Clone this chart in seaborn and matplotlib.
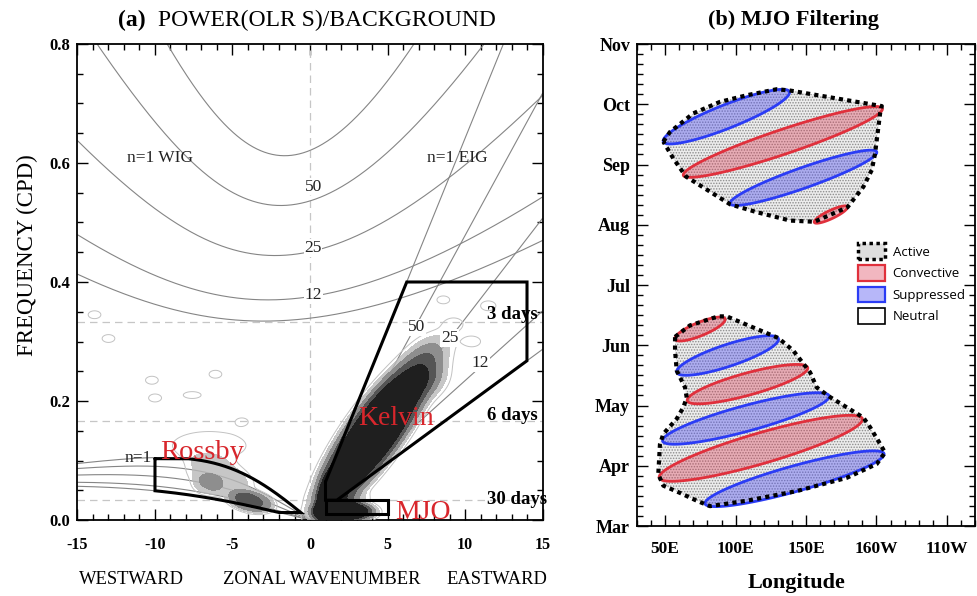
import numpy as np
import pandas as pd
import matplotlib
matplotlib.use("Agg")
import matplotlib.pyplot as plt
import matplotlib.ticker as mticker
from matplotlib.patches import Patch, Polygon
import seaborn as sns

# ---------------------------------------------------------------------------
# (a) symmetric OLR power / background in wavenumber-frequency space
# ---------------------------------------------------------------------------
EQUIV_DEPTHS = [8, 12, 25, 50, 90]          # shallow-water equivalent depths (m)
PERIOD_LINES = [3, 6, 30]                   # reference periods (days)

# filter regions: zonal wavenumber limits, period limits (days), depth limits (m)
KELVIN_K = [1, 14]
KELVIN_PERIOD = [2.5, 30]
KELVIN_H = [8, 90]
ROSSBY_K = [-10, -0.05]
ROSSBY_PERIOD = [9.7, 80]
ROSSBY_H = [8, 90]
MJO_K = [1, 5]
MJO_PERIOD = [30, 96]

# spectral peaks of the power/background ratio:
# centre wavenumber, centre frequency (cpd), spread in k, spread in f,
# k-f correlation, amplitude above 1, peak flatness exponent
PEAK_K = [4.2, 2.2, 0.9, 7.8, 8.0, 2.3, -5.8, -6.6, -3.8, -6.5,
          -13.9, -13.0, -10.2, -10.0, -7.6, -6.1, -4.4, 9.3, 10.5, 11.5, 8.6]
PEAK_F = [0.148, 0.014, 0.035, 0.280, 0.235, 0.036, 0.072, 0.060, 0.031, 0.125,
          0.345, 0.305, 0.235, 0.205, 0.210, 0.245, 0.165, 0.330, 0.300, 0.360, 0.370]
PEAK_SK = [2.6, 1.35, 0.35, 1.0, 0.7, 1.0, 1.5, 0.7, 1.0, 2.2,
           0.5, 0.5, 0.5, 0.5, 0.7, 0.5, 0.5, 0.6, 0.6, 0.6, 0.5]
PEAK_SF = [0.090, 0.012, 0.025, 0.022, 0.020, 0.008, 0.025, 0.013, 0.013, 0.022,
           0.008, 0.008, 0.008, 0.008, 0.007, 0.008, 0.008, 0.010, 0.010, 0.010, 0.008]
PEAK_RHO = [0.84, 0.0, 0.5, 0.3, 0.3, 0.0, -0.4, 0.0, -0.3, 0.0,
            0, 0, 0, 0, 0, 0, 0, 0, 0, 0, 0]
PEAK_AMP = [1.6, 1.5, 1.1, 0.2, 0.3, 0.3, 0.32, 0.22, 0.75, 0.14,
            0.14, 0.14, 0.14, 0.14, 0.14, 0.14, 0.14, 0.14, 0.14, 0.14, 0.14]
PEAK_P = [2, 2, 1, 1, 1, 1, 2, 2, 2, 2,
          1, 1, 1, 1, 1, 1, 1, 1, 1, 1, 1]
RATIO_LIGHT_LEVELS = [1.2, 1.4]
RATIO_DARK_LEVELS = [1.4, 1.7, 2.0, 99.0]
RATIO_LIGHT_COLOR = "#b8b8b8"
RATIO_DARK_COLORS = ["#8e8e8e", "#555555", "#1f1f1f"]
RATIO_LINE_LEVEL = [1.1]

# ---------------------------------------------------------------------------
# (b) MJO filtering schematic: longitude (deg E) vs time (months after 1 Mar)
# ---------------------------------------------------------------------------
MONTHS = ["Mar", "Apr", "May", "Jun", "Jul", "Aug", "Sep", "Oct", "Nov"]
LON_TICKS = [50, 100, 150, 200, 250]
LON_LABELS = ["50E", "100E", "150E", "160W", "110W"]

ACTIVE_LATE_LON = [48.7, 53.4, 70.0, 88.9, 107.9, 129.2, 138.2, 203.8, 202.6, 199.0,
                   196.7, 190.7, 179.4, 155.9, 138.7, 114.9, 96.1, 64.8, 55.8]
ACTIVE_LATE_MON = [6.38, 6.54, 6.85, 7.04, 7.15, 7.25, 7.23, 6.97, 6.85, 6.18,
                   5.91, 5.63, 5.29, 5.05, 5.07, 5.21, 5.34, 5.80, 6.10]
ACTIVE_EARLY_LON = [57.0, 67.6, 87.7, 93.7, 130.4, 141.0, 152.9, 157.6, 167.1, 178.9,
                    190.7, 195.5, 201.4, 206.1, 200.2, 178.9, 143.4, 107.9, 81.8, 72.4,
                    60.5, 48.7, 45.1, 46.3, 48.7, 58.2, 62.9, 65.3, 64.1, 60.5, 58.2, 57.0]
ACTIVE_EARLY_MON = [3.14, 3.33, 3.48, 3.48, 3.12, 2.91, 2.55, 2.30, 2.14, 1.97,
                    1.80, 1.64, 1.41, 1.22, 1.03, 0.80, 0.58, 0.42, 0.33, 0.42,
                    0.55, 0.67, 0.86, 1.36, 1.53, 1.78, 1.97, 2.13, 2.30, 2.47, 2.58, 2.91]

# anomaly ellipses: kind, start/end (longitude, month), vertical thickness (months)
ANOM_KIND = ["Suppressed", "Convective", "Suppressed", "Convective", "Convective",
             "Suppressed", "Convective", "Suppressed", "Convective", "Suppressed"]
ANOM_LON0 = [48.7, 62.9, 96.1, 155.9, 57.0, 58.2, 65.7, 48.2, 45.8, 78.3]
ANOM_MON0 = [6.38, 5.82, 5.35, 5.04, 3.10, 2.55, 2.08, 1.41, 0.80, 0.37]
ANOM_LON1 = [138.2, 204.2, 200.2, 179.4, 92.5, 130.4, 151.2, 166.4, 190.0, 205.4]
ANOM_MON1 = [7.21, 6.93, 6.21, 5.30, 3.44, 3.11, 2.63, 2.16, 1.78, 1.20]
ANOM_THICK = [0.42, 0.43, 0.36, 0.15, 0.24, 0.38, 0.38, 0.44, 0.53, 0.44]

ANOM_STYLE = {
    "Convective": dict(face=(0.86, 0.20, 0.30, 0.35), edge="#e0303c"),
    "Suppressed": dict(face=(0.30, 0.30, 0.95, 0.40), edge="#2b3cf5"),
}
ACTIVE_FACE = "#ececec"
ACTIVE_DOTS = "#8c8c8c"

# ---------------------------------------------------------------------------
G = 9.81
RADIUS = 6.371e6
BETA = 2 * 7.292e-5 / RADIUS
TO_CPD = 86400.0 / (2 * np.pi)


def kelvin_cpd(s, h):
    return np.sqrt(G * h) * np.asarray(s) / RADIUS * TO_CPD


def n1_branches(s, h):
    """n=1 inertio-gravity and Rossby frequencies (cpd) for wavenumbers s."""
    c = np.sqrt(G * h)
    ig, ros = [], []
    for sv in np.atleast_1d(s):
        k = sv / RADIUS
        r = np.sort(np.roots([1.0, 0.0, -c * c * (k * k + 3 * BETA / c), -BETA * k * c * c]).real)
        ig.append(r[2] * TO_CPD)
        ros.append(r[1] * TO_CPD)
    return np.array(ig), np.array(ros)


def band_outline(s, lower, upper):
    ok = lower <= upper
    xs = np.concatenate([s[ok], s[ok][::-1], s[ok][:1]])
    ys = np.concatenate([upper[ok], lower[ok][::-1], upper[ok][:1]])
    return xs, ys


sns.set_theme(style="ticks")
plt.rcParams.update({
    "font.family": ["Liberation Serif", "DejaVu Serif"],
    "axes.unicode_minus": False,
    "axes.edgecolor": "black",
    "axes.linewidth": 1.3,
    "text.color": "black",
    "axes.labelcolor": "black",
    "xtick.color": "black",
    "ytick.color": "black",
    "hatch.linewidth": 0.7,
})

fig = plt.figure(figsize=(9.77, 5.96), dpi=100)
ax1 = fig.add_axes([0.0793, 0.1275, 0.476, 0.7987])
ax2 = fig.add_axes([0.652, 0.1174, 0.346, 0.8087])

# ----------------------------- panel (a) -----------------------------------
ax1.set_xlim(-15, 15)
ax1.set_ylim(0, 0.8)

kk = np.linspace(-15, 15, 481)
ff = np.linspace(0, 0.8, 641)
K, F = np.meshgrid(kk, ff)
ratio = np.ones_like(K)
for k0, f0, sk, sf, rho, amp, p in zip(PEAK_K, PEAK_F, PEAK_SK, PEAK_SF,
                                        PEAK_RHO, PEAK_AMP, PEAK_P):
    x = (K - k0) / sk
    y = (F - f0) / sf
    r2 = (x * x - 2 * rho * x * y + y * y) / (1 - rho * rho)
    ratio += amp * np.exp(-(r2 / 2) ** p)

# lightest shade lets the dispersion curves show through; darker shades hide them
ax1.contourf(K, F, ratio, levels=[RATIO_LIGHT_LEVELS[0], 99.0], colors=[RATIO_LIGHT_COLOR],
             alpha=0.8, zorder=3)
ax1.contourf(K, F, ratio, levels=RATIO_DARK_LEVELS, colors=RATIO_DARK_COLORS, zorder=3)
ax1.contour(K, F, ratio, levels=RATIO_LINE_LEVEL, colors="#c2c2c2", linewidths=0.7, zorder=3)

for period in PERIOD_LINES:
    ax1.axhline(1.0 / period, color="#c6c6c6", lw=0.9, ls=(0, (6, 4)), zorder=1.5)
ax1.axvline(0, color="#c6c6c6", lw=0.9, ls=(0, (6, 4)), zorder=1.5)

# dispersion curves
s_all = np.linspace(-15, 15, 481)
s_west = np.linspace(-15, -0.02, 300)
s_east = np.linspace(0, 15, 100)
frames = []
for h in EQUIV_DEPTHS:
    ig, _ = n1_branches(s_all, h)
    _, ros = n1_branches(s_west, h)
    frames.append(pd.DataFrame({"k": s_all, "f": ig, "curve": f"ig{h}"}))
    frames.append(pd.DataFrame({"k": s_west, "f": ros, "curve": f"er{h}"}))
    frames.append(pd.DataFrame({"k": s_east, "f": kelvin_cpd(s_east, h), "curve": f"kw{h}"}))
curves = pd.concat(frames, ignore_index=True)
curves.loc[curves["f"] > 0.9, "f"] = np.nan
sns.lineplot(data=curves, x="k", y="f", units="curve", estimator=None, sort=False,
             color="#858585", lw=0.8, ax=ax1, legend=False, zorder=2)

# filter boxes
box_kw = dict(color="black", lw=2.2, zorder=4, solid_joinstyle="miter")
sk = np.linspace(KELVIN_K[0], KELVIN_K[1], 3000)
lo = np.maximum(kelvin_cpd(sk, KELVIN_H[0]), 1.0 / KELVIN_PERIOD[1])
hi = np.minimum(kelvin_cpd(sk, KELVIN_H[1]), 1.0 / KELVIN_PERIOD[0])
ax1.plot(*band_outline(sk, lo, hi), **box_kw)

sr = np.linspace(ROSSBY_K[0], ROSSBY_K[1], 1500)
lo = np.maximum(n1_branches(sr, ROSSBY_H[0])[1], 1.0 / ROSSBY_PERIOD[1])
hi = np.minimum(n1_branches(sr, ROSSBY_H[1])[1], 1.0 / ROSSBY_PERIOD[0])
ax1.plot(*band_outline(sr, lo, hi), **box_kw)

mjo_f = [1.0 / MJO_PERIOD[1], 1.0 / MJO_PERIOD[0]]
ax1.plot([MJO_K[0], MJO_K[1], MJO_K[1], MJO_K[0], MJO_K[0]],
         [mjo_f[0], mjo_f[0], mjo_f[1], mjo_f[1], mjo_f[0]], **box_kw)

# annotations
red = "#d8262c"
ax1.text(5.55, 0.170, "Kelvin", color=red, fontsize=20, ha="center", va="center", zorder=6)
ax1.text(-6.95, 0.113, "Rossby", color=red, fontsize=20.5, ha="center", va="center", zorder=6)
ax1.text(7.3, 0.013, "MJO", color=red, fontsize=20, ha="center", va="center", zorder=6)
ax1.text(-11.1, 0.104, "n=1", fontsize=12.5, ha="center", va="center", color="#222222", zorder=6)
ax1.text(-9.7, 0.608, "n=1 WIG", fontsize=12.5, ha="center", va="center", color="#222222")
ax1.text(9.5, 0.608, "n=1 EIG", fontsize=12.5, ha="center", va="center", color="#222222")
white = dict(facecolor="white", edgecolor="none", pad=0.5)
for lab, fy in zip(["50", "25", "12"], [0.560, 0.457, 0.378]):
    ax1.text(0.2, fy, lab, fontsize=12.5, ha="center", va="center", color="#222222",
             bbox=white, zorder=3)
for lab, kx, fy in zip(["50", "25", "12"], [6.9, 9.0, 11.0], [0.324, 0.306, 0.264]):
    ax1.text(kx, fy, lab, fontsize=12.5, ha="center", va="center", color="#222222",
             bbox=white, zorder=3)
for lab, fy in zip(["3 days", "6 days", "30 days"], [0.345, 0.175, 0.034]):
    ax1.text(11.45, fy, lab, fontsize=13.5, fontweight="bold", ha="left", va="center",
             zorder=6, clip_on=False)

ax1.xaxis.set_major_locator(mticker.MultipleLocator(5))
ax1.xaxis.set_minor_locator(mticker.MultipleLocator(1))
ax1.yaxis.set_major_locator(mticker.MultipleLocator(0.2))
ax1.yaxis.set_minor_locator(mticker.MultipleLocator(0.05))
ax1.yaxis.set_major_formatter(mticker.FormatStrFormatter("%.1f"))
ax1.tick_params(which="both", direction="in", top=True, right=True, width=1.0)
ax1.tick_params(which="major", length=8)
ax1.tick_params(which="minor", length=4)
ax1.tick_params(axis="x", pad=12, labelsize=11.5)
ax1.tick_params(axis="y", pad=5, labelsize=12)
for lab in ax1.get_xticklabels() + ax1.get_yticklabels():
    lab.set_fontweight("bold")
ax1.set_xlabel("")
ax1.set_ylabel("")

fig.text(118 / 977, 1 - 20 / 596, "(a)", fontsize=17, fontweight="bold", ha="left", va="center")
fig.text(158 / 977, 1 - 20 / 596, "POWER(OLR S)/BACKGROUND", fontsize=17, ha="left", va="center")
fig.text(27 / 977, 1 - 255 / 596, "FREQUENCY (CPD)", fontsize=16.5, rotation=90,
         ha="center", va="center")
for lab, xc in zip(["WESTWARD", "ZONAL WAVENUMBER", "EASTWARD"], [131, 322, 497]):
    fig.text(xc / 977, 1 - 580 / 596, lab, fontsize=13.3, ha="center", va="center")

# ----------------------------- panel (b) -----------------------------------
ax2.set_xlim(30, 270)
ax2.set_ylim(0, 8)


def ellipse_xy(ax, lon0, m0, lon1, m1, thick, n=180):
    T = ax.transData
    p0 = np.array(T.transform((lon0, m0)))
    p1 = np.array(T.transform((lon1, m1)))
    sy = T.transform((0, 1))[1] - T.transform((0, 0))[1]
    c = (p0 + p1) / 2
    d = p1 - p0
    a = np.hypot(*d) / 2
    th = np.arctan2(d[1], d[0])
    t = thick * sy
    b = np.cos(th) / np.sqrt(4 / t ** 2 - np.sin(th) ** 2 / a ** 2)
    u = np.linspace(0, 2 * np.pi, n)
    x = c[0] + a * np.cos(u) * np.cos(th) - b * np.sin(u) * np.sin(th)
    y = c[1] + a * np.cos(u) * np.sin(th) + b * np.sin(u) * np.cos(th)
    return T.inverted().transform(np.column_stack([x, y]))


outline_kw = dict(color="black", lw=3.0, ls=(0, (1, 1)), zorder=4)
for lons, mons in [(ACTIVE_LATE_LON, ACTIVE_LATE_MON), (ACTIVE_EARLY_LON, ACTIVE_EARLY_MON)]:
    xy = np.column_stack([lons, mons])
    ax2.add_patch(Polygon(xy, closed=True, facecolor=ACTIVE_FACE, edgecolor="none", zorder=1))
    ax2.add_patch(Polygon(xy, closed=True, facecolor="none", edgecolor=ACTIVE_DOTS,
                          hatch="......", lw=0, zorder=1.5))
    ax2.plot(list(lons) + [lons[0]], list(mons) + [mons[0]], **outline_kw)

for kind, l0, m0, l1, m1, th in zip(ANOM_KIND, ANOM_LON0, ANOM_MON0, ANOM_LON1,
                                    ANOM_MON1, ANOM_THICK):
    st = ANOM_STYLE[kind]
    xy = ellipse_xy(ax2, l0, m0, l1, m1, th)
    ax2.add_patch(Polygon(xy, closed=True, facecolor=st["face"], edgecolor=st["edge"],
                          lw=2.0, zorder=3))

ax2.set_xticks(LON_TICKS)
ax2.set_xticklabels(LON_LABELS)
ax2.xaxis.set_minor_locator(mticker.MultipleLocator(10))
ax2.set_yticks(range(len(MONTHS)))
ax2.set_yticklabels(MONTHS)
ax2.yaxis.set_minor_locator(mticker.MultipleLocator(1 / 6))
ax2.tick_params(which="both", direction="in", top=True, right=True, width=1.0)
ax2.tick_params(which="major", length=8)
ax2.tick_params(which="minor", length=4)
ax2.tick_params(axis="x", pad=11, labelsize=12.5)
ax2.tick_params(axis="y", pad=5, labelsize=13)
for lab in ax2.get_xticklabels() + ax2.get_yticklabels():
    lab.set_fontweight("bold")

handles = [
    Patch(facecolor="#dedede", edgecolor="black", lw=2.5, linestyle=(0, (1, 1))),
    Patch(facecolor=ANOM_STYLE["Convective"]["face"], edgecolor=ANOM_STYLE["Convective"]["edge"], lw=1.6),
    Patch(facecolor=ANOM_STYLE["Suppressed"]["face"], edgecolor=ANOM_STYLE["Suppressed"]["edge"], lw=1.6),
    Patch(facecolor="white", edgecolor="black", lw=1.2),
]
ax2.legend(handles, ["Active", "Convective", "Suppressed", "Neutral"],
           loc="upper left", bbox_to_anchor=(0.635, 0.6), frameon=False, borderpad=0,
           handlelength=2.0, handleheight=1.45, labelspacing=0.45, handletextpad=0.6,
           prop={"family": ["Open Sans", "DejaVu Sans"], "size": 9.5})

fig.text(794 / 977, 1 - 20 / 596, "(b) MJO Filtering", fontsize=16, fontweight="bold",
         ha="center", va="center")
fig.text(797 / 977, 1 - 583 / 596, "Longitude", fontsize=16, fontweight="bold",
         ha="center", va="center")

fig.savefig("out.png", dpi=100)
